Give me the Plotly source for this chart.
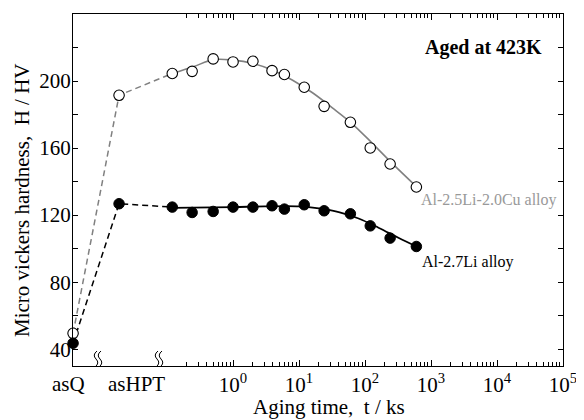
import plotly.graph_objects as go
import numpy as np

# ---- data ----
# pseudo positions (ks) on the broken log axis for the as-quenched / as-HPT states
pos_asQ = 10 ** -2.424
pos_asHPT = 10 ** -1.727

aging_time = [0.12, 0.24, 0.5, 1.0, 2.0, 3.9, 6.0, 12, 24, 60, 120, 240, 600]

cu_asQ = 49.5
cu_asHPT = 191.5
cu_hv = [204.5, 205.8, 213.2, 211.4, 211.8, 206.2, 203.9, 196.3, 184.9, 175.4, 160.1, 150.5, 136.8]

li_asQ = 43.6
li_asHPT = 126.8
li_hv = [124.8, 121.6, 122.2, 124.8, 124.8, 125.6, 123.6, 126.2, 122.6, 120.8, 113.6, 106.3, 101.3]

cu_fit_t = [0.12, 0.25, 0.5, 1, 2, 4, 8, 16, 32, 64, 128, 256, 600]
cu_fit_hv = [204.5, 208.5, 212.8, 212.5, 210.5, 206.5, 200.5, 193, 184, 174.5, 163, 151, 137]

li_fit_t = [0.12, 1, 3, 10, 20, 40, 80, 160, 320, 600]
li_fit_hv = [124.3, 124.8, 125.2, 125.2, 124, 121.8, 118, 112.5, 106.5, 101.3]

major_ticks = [1, 10, 100, 1000, 10000, 100000]
major_labels = ["10<sup>0</sup>", "10<sup>1</sup>", "10<sup>2</sup>", "10<sup>3</sup>",
                "10<sup>4</sup>", "10<sup>5</sup>"]
minor_ticks = [m * 10 ** e for e in range(-1, 5) for m in range(2, 10)]

FONT = "Liberation Serif, Times New Roman, serif"
GRAY = "#808080"

fig = go.Figure()

# dashed connectors asQ -> asHPT -> first aged point
fig.add_trace(go.Scatter(x=[pos_asQ, pos_asHPT, aging_time[0]], y=[cu_asQ, cu_asHPT, cu_hv[0]],
                         mode="lines", line=dict(color=GRAY, width=1.5, dash="6px,4px"),
                         showlegend=False, hoverinfo="skip", cliponaxis=False))
fig.add_trace(go.Scatter(x=[pos_asQ, pos_asHPT, aging_time[0]], y=[li_asQ, li_asHPT, li_hv[0]],
                         mode="lines", line=dict(color="black", width=1.5, dash="6px,4px"),
                         showlegend=False, hoverinfo="skip", cliponaxis=False))
# fitted curves
fig.add_trace(go.Scatter(x=cu_fit_t, y=cu_fit_hv, mode="lines",
                         line=dict(color=GRAY, width=1.6, shape="spline", smoothing=1.0),
                         showlegend=False, hoverinfo="skip"))
fig.add_trace(go.Scatter(x=li_fit_t, y=li_fit_hv, mode="lines",
                         line=dict(color="black", width=1.8, shape="spline", smoothing=1.0),
                         showlegend=False, hoverinfo="skip"))
# markers
fig.add_trace(go.Scatter(x=[pos_asQ, pos_asHPT] + aging_time, y=[cu_asQ, cu_asHPT] + cu_hv,
                         mode="markers", cliponaxis=False, showlegend=False,
                         marker=dict(symbol="circle", size=10.5, color="white",
                                     line=dict(color="black", width=1.1))))
fig.add_trace(go.Scatter(x=[pos_asQ, pos_asHPT] + aging_time, y=[li_asQ, li_asHPT] + li_hv,
                         mode="markers", cliponaxis=False, showlegend=False,
                         marker=dict(symbol="circle", size=10.5, color="black",
                                     line=dict(color="black", width=1))))

x_lo = np.log10(pos_asQ) - 0.001
fig.update_xaxes(type="log", range=[x_lo, 5], tickmode="array", automargin=False,
                 tickvals=major_ticks, ticktext=major_labels,
                 ticks="inside", ticklen=6, tickwidth=1, tickcolor="black",
                 minor=dict(tickmode="array", tickvals=minor_ticks, ticks="inside",
                            ticklen=4, tickwidth=1, tickcolor="black", showgrid=False),
                 showline=True, linecolor="black", linewidth=1.2, mirror="ticks",
                 showgrid=False, zeroline=False,
                 tickfont=dict(family=FONT, size=21, color="black"))
fig.update_yaxes(range=[30, 240], tickmode="array", tickvals=[40, 80, 120, 160, 200, 240],
                 automargin=False, ticklabelstandoff=-3,
                 ticks="inside", ticklen=5, tickwidth=1, tickcolor="black",
                 minor=dict(tickmode="array", tickvals=[60, 100, 140, 180, 220], ticks="inside",
                            ticklen=5, tickwidth=1, tickcolor="black", showgrid=False),
                 showline=True, linecolor="black", linewidth=1.2, mirror="ticks",
                 showgrid=False, zeroline=False,
                 tickfont=dict(family=FONT, size=21, color="black"))

# page body margin offset (8px) compensation
OFF = 8
W, H = 584 - OFF, 420 - OFF
L, R, T, B = 73 - OFF, 21, 14 - OFF, 54
pw, ph = W - L - R, H - T - B

annotations = [
    dict(text="<b>Aged at 423K</b>", x=483, y=47, font=dict(size=20, color="black")),
    dict(text="Al-2.5Li-2.0Cu alloy", x=489, y=200, font=dict(size=16, color="#999999")),
    dict(text="Al-2.7Li alloy", x=468, y=262, font=dict(size=16, color="black")),
    dict(text="asQ", x=68, y=384, font=dict(size=21, color="black")),
    dict(text="asHPT", x=136, y=384, font=dict(size=21, color="black")),
    dict(text="Aging time,  t / ks", x=329, y=407, font=dict(size=21, color="black")),
]
ann = []
for a in annotations:
    ann.append(dict(text=a["text"], xref="paper", yref="paper",
                    x=(a["x"] - OFF - L) / pw, y=(H - B - (a["y"] - OFF)) / ph,
                    xanchor="center", yanchor="middle", showarrow=False,
                    font=dict(family=FONT, **a["font"])))
ann.append(dict(text="Micro vickers hardness,  H / HV", xref="paper", yref="paper",
                x=(22 - OFF - L) / pw, y=(H - B - (200 - OFF)) / ph, textangle=-90,
                xanchor="center", yanchor="middle", showarrow=False,
                font=dict(family=FONT, size=21, color="black")))

# axis break marks
shapes = []
for bx in [96, 100, 157, 161]:
    shapes.append(dict(type="path", xref="paper", yref="paper",
                       xsizemode="pixel", ysizemode="pixel",
                       xanchor=(bx - OFF - L) / pw, yanchor=0,
                       path="M -1,-1 Q 4,3 0,7 Q -4,11 1,15",
                       line=dict(color="black", width=1)))

fig.update_layout(width=W, height=H, margin=dict(l=L, r=R, t=T, b=B),
                  plot_bgcolor="white", paper_bgcolor="white",
                  annotations=ann, shapes=shapes, showlegend=False)

fig.write_html("out.html")
